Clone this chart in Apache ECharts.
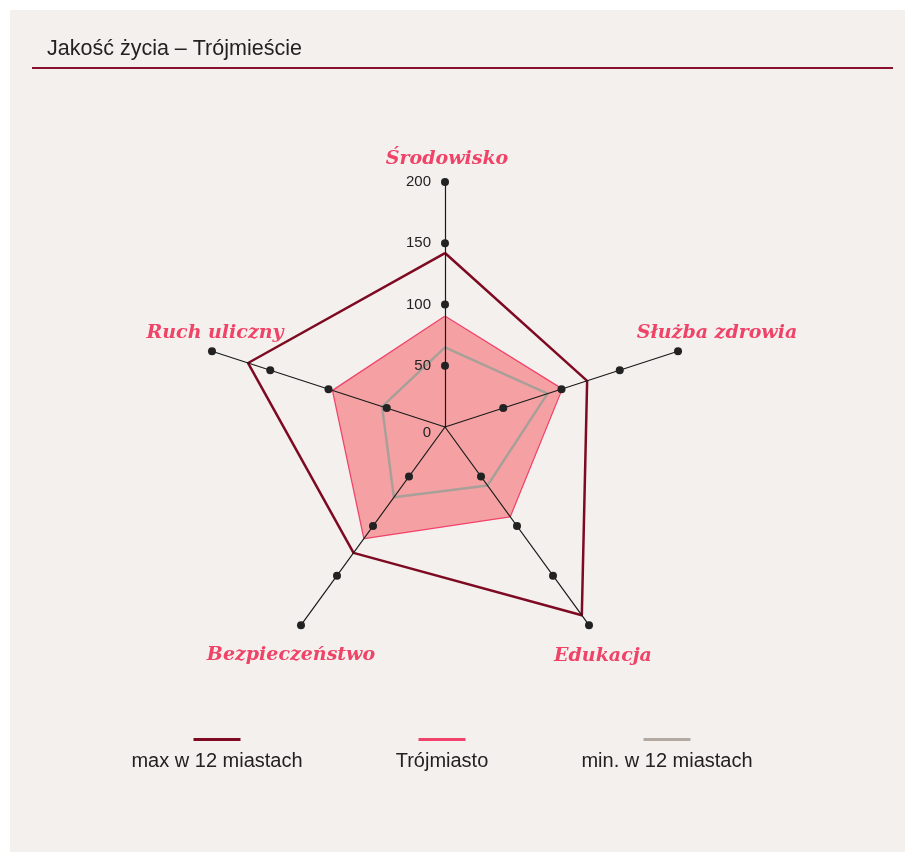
<!DOCTYPE html>
<html>
<head>
<meta charset="utf-8">
<script src="https://cdn.jsdelivr.net/npm/echarts@6/dist/echarts.min.js"></script>
<style>
  html, body { margin: 0; padding: 0; background: #fff; }
  #chart { width: 905px; height: 852px; }
</style>
</head>
<body>
<div id="chart"></div>
<script>
// kolejność wskaźników jak w echarts (od góry, przeciwnie do ruchu wskazówek)
var categories = ["Środowisko", "Ruch uliczny", "Bezpieczeństwo", "Edukacja", "Służba zdrowia"];
var maxValues = [142, 169, 127, 190, 122];
var cityValues = [90, 96, 112, 90, 100];
var minValues = [65, 54, 71, 59, 88];
var tickValues = [0, 50, 100, 150, 200];
var seriesNames = ["max w 12 miastach", "Trójmiasto", "min. w 12 miastach"];

var center = [445, 427];
var radius = 245;

// przesunięcie podpisów osi względem końca osi [dx, dy]
var nameShift = [[2, -23], [3, -18], [-10, 30], [14, 31], [39, -18]];

var nameFont = {
  fontFamily: "DejaVu Serif",
  fontStyle: "italic",
  fontWeight: "bold",
  fontSize: 19,
  color: "#ef4468"
};

var nameRich = {};
nameShift.forEach(function (s, i) {
  var dx = s[0], dy = s[1];
  nameRich["n" + i] = Object.assign({}, nameFont, {
    padding: [dy > 0 ? 2 * dy : 0, dx < 0 ? -2 * dx : 0, dy < 0 ? -2 * dy : 0, dx > 0 ? 2 * dx : 0]
  });
});

var legendColors = ["#7d0a22", "#f0426a", "#b3a9a1"];
var legendRich = {
  t: {
    width: 200,
    align: "center",
    fontFamily: "Liberation Sans",
    fontSize: 20,
    lineHeight: 20,
    color: "#222",
    padding: [20, 0, 0, 0]
  }
};
legendColors.forEach(function (c, i) {
  legendRich["l" + i] = { width: 47, height: 3, lineHeight: 3, backgroundColor: c, align: "center", fontSize: 3 };
});

var myChart = echarts.init(document.getElementById("chart"));

var tickSeries = tickValues.slice(1).map(function (v) {
  return {
    type: "radar",
    z: 5,
    silent: true,
    symbol: "circle",
    symbolSize: 8,
    itemStyle: { color: "#222" },
    lineStyle: { opacity: 0 },
    data: [{ value: categories.map(function () { return v; }) }]
  };
});

var option = {
  backgroundColor: "#fff",
  animation: false,
  title: {
    text: "Jakość życia – Trójmieście",
    left: 42,
    top: 33,
    textStyle: { fontFamily: "Liberation Sans", fontSize: 21.5, fontWeight: "normal", color: "#222" }
  },
  graphic: [
    { type: "rect", z: -10, silent: true, shape: { x: 10, y: 10, width: 895, height: 842 }, style: { fill: "#f4f0ed" } },
    { type: "line", silent: true, shape: { x1: 32, y1: 68, x2: 893, y2: 68 }, style: { stroke: "#8a1030", lineWidth: 2 } }
  ],
  legend: {
    data: seriesNames,
    left: 107,
    top: 726,
    icon: "rect",
    itemWidth: 0,
    itemHeight: 0,
    itemGap: 20,
    selectedMode: false,
    itemStyle: { opacity: 0 },
    formatter: function (name) {
      return "{l" + seriesNames.indexOf(name) + "| }\n{t|" + name + "}";
    },
    textStyle: { rich: legendRich }
  },
  grid: { left: center[0], top: center[1] - radius, width: 1, height: radius },
  xAxis: { type: "value", show: false },
  yAxis: {
    type: "value",
    z: 10,
    min: 0,
    max: 200,
    interval: 50,
    axisLine: { show: false },
    axisTick: { show: false },
    splitLine: { show: false },
    axisLabel: {
      margin: 14,
      fontFamily: "Liberation Sans",
      fontSize: 15,
      color: "#222",
      formatter: function (v) {
        if (v === 0) return "{z|0}";
        return tickValues.indexOf(v) >= 0 ? String(v) : "";
      },
      rich: {
        z: { fontFamily: "Liberation Sans", fontSize: 15, color: "#222", padding: [12, 0, 0, 0] }
      }
    }
  },
  radar: {
    z: 3,
    center: center,
    radius: radius,
    startAngle: 90,
    shape: "polygon",
    splitNumber: 4,
    indicator: categories.map(function (c) { return { name: c, min: 0, max: 200 }; }),
    nameGap: 0,
    axisName: Object.assign({}, nameFont, {
      align: "center",
      verticalAlign: "middle",
      formatter: function (name) {
        return "{n" + categories.indexOf(name) + "|" + name + "}";
      },
      rich: nameRich
    }),
    axisLine: { lineStyle: { color: "#1a1a1a", width: 1.2 } },
    axisTick: { show: false },
    axisLabel: { show: false },
    splitLine: { show: false },
    splitArea: { show: false }
  },
  series: [
    {
      name: seriesNames[1],
      type: "radar",
      z: 2,
      symbol: "none",
      color: legendColors[1],
      lineStyle: { color: "#f0426a", width: 2.5 },
      areaStyle: { color: "#f5a1a3", opacity: 1 },
      data: [{ value: cityValues, name: seriesNames[1] }]
    },
    {
      name: seriesNames[2],
      type: "radar",
      z: 2,
      symbol: "none",
      color: legendColors[2],
      lineStyle: { color: "#a99f99", width: 2.5 },
      data: [{ value: minValues, name: seriesNames[2] }]
    },
    {
      name: seriesNames[0],
      type: "radar",
      z: 2,
      symbol: "none",
      color: legendColors[0],
      lineStyle: { color: "#7d0a22", width: 2.5 },
      data: [{ value: maxValues, name: seriesNames[0] }]
    }
  ].concat(tickSeries)
};

myChart.setOption(option);
</script>
</body>
</html>
